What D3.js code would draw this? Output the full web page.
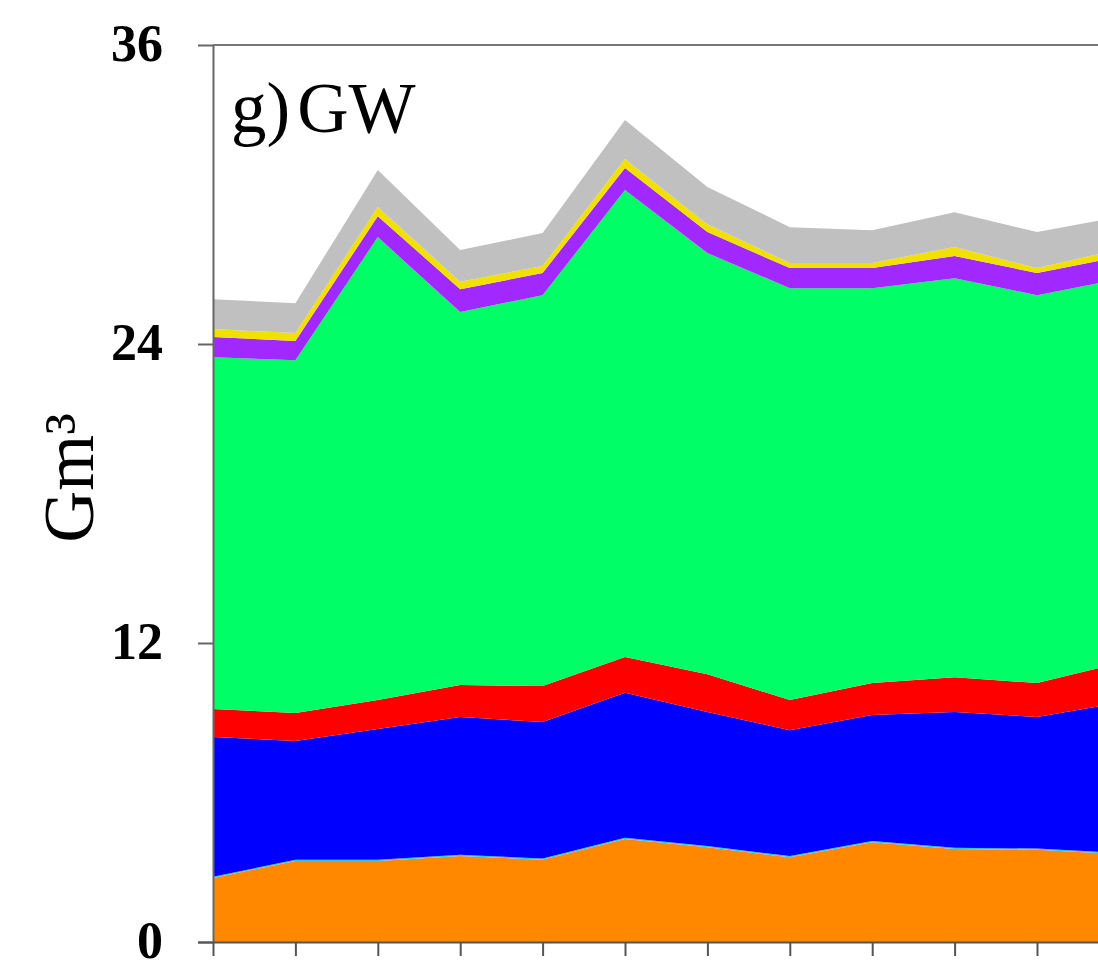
<!DOCTYPE html>
<html>
<head>
<meta charset="utf-8">
<script src="https://cdn.jsdelivr.net/npm/d3@7"></script>
<style>
  body { margin: 0; background: #fff; }
  svg text { font-family: "Liberation Serif", "Times New Roman", serif; fill: #000; }
</style>
</head>
<body>
<svg id="stackVis" width="1098" height="964"></svg>
<script>
// x positions (one per time step, last one runs off the right edge)
const periods = [1, 2, 3, 4, 5, 6, 7, 8, 9, 10, 11, 12];
const yTicks = [0, 12, 24, 36];

// layers, bottom to top (Gm3)
const orange = [2.57, 3.25, 3.25, 3.45, 3.30, 4.13, 3.80, 3.40, 4.00, 3.73, 3.70, 3.53];
const cyan   = [0.05, 0.05, 0.05, 0.05, 0.05, 0.05, 0.05, 0.05, 0.05, 0.05, 0.05, 0.05];
const blue   = [5.61, 4.77, 5.25, 5.53, 5.48, 5.82, 5.38, 5.05, 5.06, 5.45, 5.28, 6.02];
const red    = [1.12, 1.12, 1.16, 1.28, 1.44, 1.44, 1.52, 1.21, 1.28, 1.40, 1.36, 1.60];
const green  = [14.12, 14.16, 18.58, 14.97, 15.69, 18.74, 16.90, 16.53, 15.85, 16.01, 15.57, 15.40];
const purple = [0.81, 0.77, 0.84, 0.92, 0.89, 0.88, 0.84, 0.81, 0.81, 0.89, 0.89, 0.90];
const yellow = [0.32, 0.32, 0.37, 0.30, 0.28, 0.36, 0.32, 0.20, 0.20, 0.36, 0.20, 0.30];
const gray   = [1.20, 1.20, 1.48, 1.27, 1.32, 1.57, 1.49, 1.44, 1.32, 1.40, 1.44, 1.30];

const layerKeys = ['orange', 'cyan', 'blue', 'red', 'green', 'purple', 'yellow', 'gray'];
const layerValues = { orange, cyan, blue, red, green, purple, yellow, gray };
const layerColors = ['#FF8800', '#33C8F0', '#0000FF', '#FF0000', '#00FF66', '#A128FF', '#F2E000', '#C0C0C0'];

const margin = { top: 45, left: 213 };
const plotBottom = 942;
const step = 82.4;

const svg = d3.select('svg#stackVis');

const table = periods.map((p, i) => {
    const row = { period: p };
    layerKeys.forEach(k => row[k] = layerValues[k][i]);
    return row;
});

const xScale = d3.scaleLinear()
    .domain([periods[0], periods[periods.length - 1]])
    .range([margin.left, margin.left + step * (periods.length - 1)]);

const yScale = d3.scaleLinear()
    .domain([0, 36])
    .range([plotBottom, margin.top]);

const colorScale = d3.scaleOrdinal()
    .domain(layerKeys)
    .range(layerColors);

const series = d3.stack().keys(layerKeys)(table);

const area = d3.area()
    .x(d => xScale(d.data.period))
    .y0(d => yScale(d[0]))
    .y1(d => yScale(d[1]));

svg.append('g')
    .attr('class', 'layers')
    .selectAll('path')
    .data(series)
    .enter()
    .append('path')
    .attr('fill', d => colorScale(d.key))
    .attr('d', area);

// top frame line
svg.append('line')
    .attr('x1', margin.left)
    .attr('x2', 1098)
    .attr('y1', yScale(36))
    .attr('y2', yScale(36))
    .attr('stroke', '#777')
    .attr('stroke-width', 2);

const yAxis = svg.append('g')
    .attr('class', 'y-axis')
    .attr('transform', `translate(${margin.left},0)`)
    .call(d3.axisLeft(yScale).tickValues(yTicks).tickSizeOuter(0).tickSizeInner(15).tickPadding(35));

yAxis.selectAll('line, path').attr('stroke', '#666').attr('stroke-width', 2);
yAxis.selectAll('text')
    .style('font-family', '"Liberation Serif", serif')
    .style('font-weight', 'bold')
    .style('font-size', '52px')
    .attr('dy', '0.3em')
    .attr('fill', '#000');

const xAxis = svg.append('g')
    .attr('class', 'x-axis')
    .attr('transform', `translate(0,${plotBottom})`)
    .call(d3.axisBottom(xScale).tickValues(periods).tickFormat('').tickSizeOuter(0).tickSizeInner(14));

xAxis.select('.domain').attr('d', `M${margin.left - 15},0.5H1098`);
xAxis.selectAll('line, path').attr('stroke', '#555').attr('stroke-width', 2);

// panel label
const title = svg.append('text')
    .attr('x', 231)
    .attr('y', 132)
    .style('font-size', '71px');
title.append('tspan').text('g)');
title.append('tspan').attr('dx', 7).text('GW');

// y axis label
svg.append('text')
    .attr('transform', `translate(93, 478) rotate(-90)`)
    .attr('text-anchor', 'middle')
    .style('font-size', '72px')
    .text('Gm³');
</script>
</body>
</html>
